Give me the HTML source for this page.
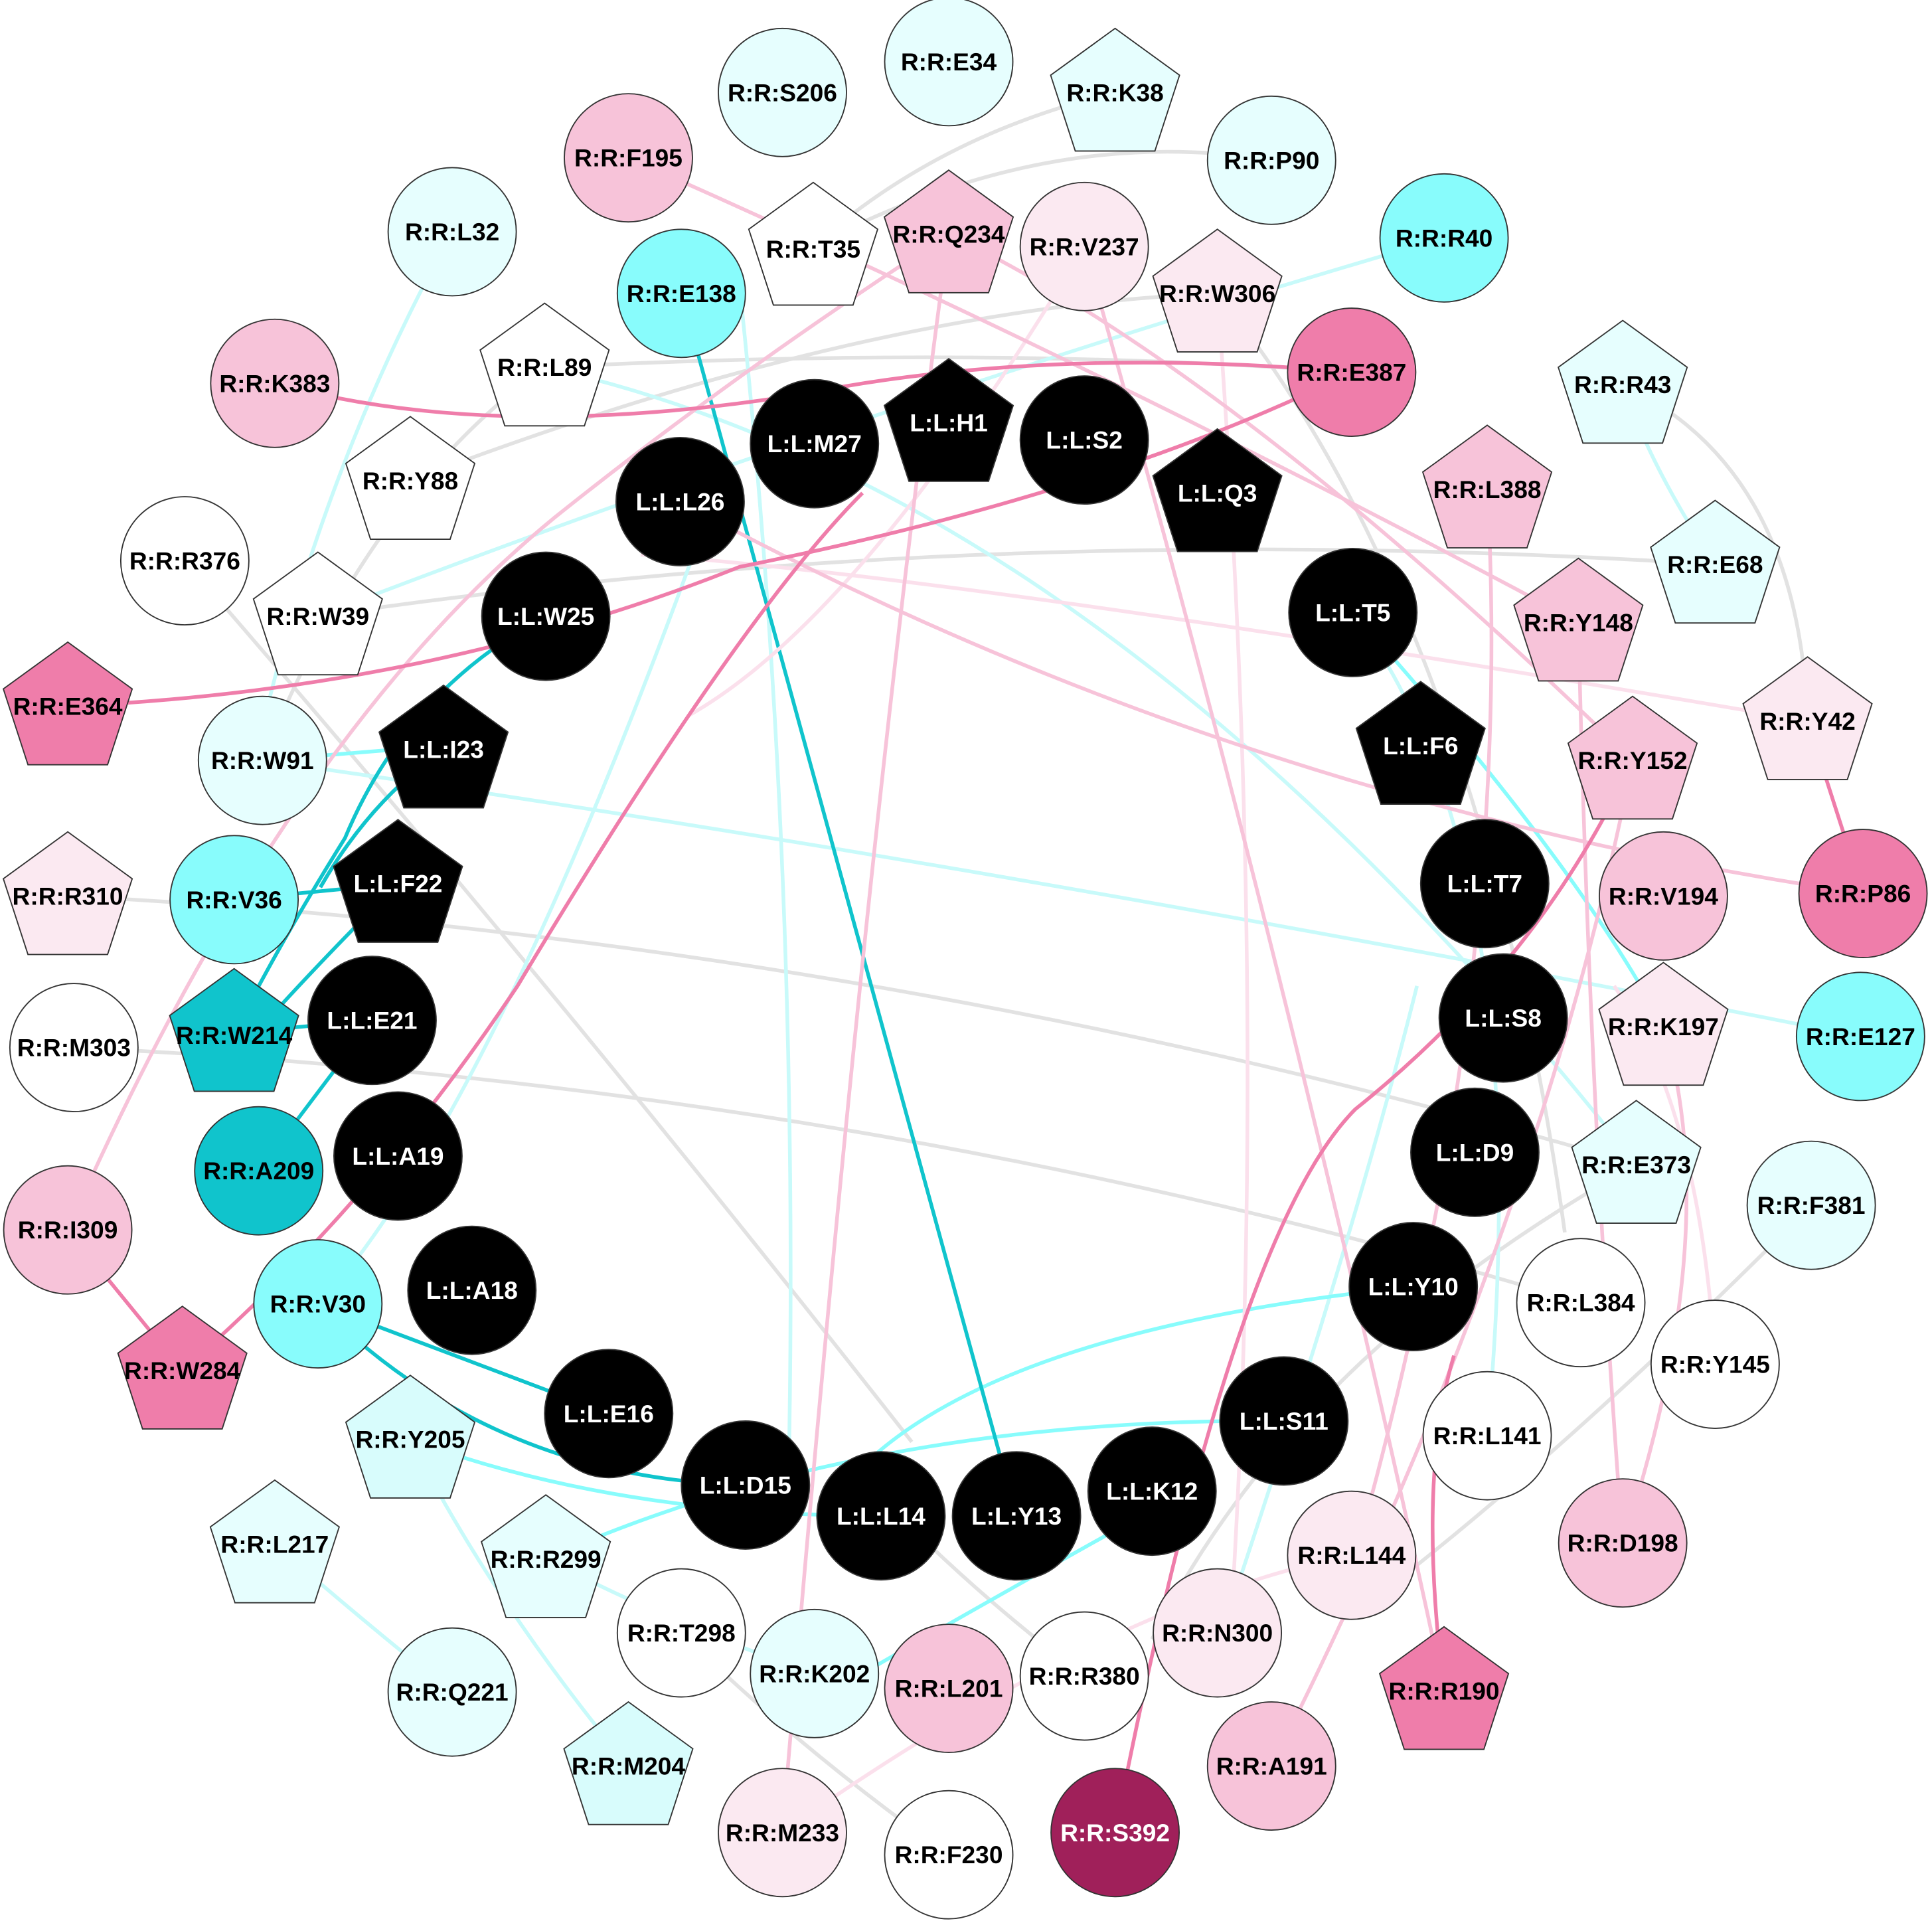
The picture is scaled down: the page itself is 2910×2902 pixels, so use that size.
<!DOCTYPE html>
<html><head><meta charset="utf-8"><style>
html,body{margin:0;padding:0;background:#fff;}
svg{display:block}
text{font-family:"Liberation Sans",Arial,sans-serif;font-weight:bold;font-size:20px;text-anchor:middle;dominant-baseline:central;fill:#000}
.c{stroke:#333;stroke-width:1}
</style></head><body>
<svg width="2910" height="2902" viewBox="0 0 1568 1563.6" xmlns="http://www.w3.org/2000/svg">
<defs>
<polygon id="pg" points="0,-55 52.3,-17 32.3,44.5 -32.3,44.5 -52.3,-17"/>
</defs>
<g fill="none" stroke-width="3">
<!-- gray edges -->
<g stroke="#e2e2e2">
<path d="M660,200 Q850,100 1032,130"/>
<path d="M660,200 Q760,110 905,75"/>
<path d="M442,298 Q800,280 1097,302"/>
<path d="M150,455 Q450,800 740,1170"/>
<path d="M55,727 Q700,760 1328,945"/>
<path d="M60,850 Q700,880 1283,1057"/>
<path d="M258,500 Q800,420 1392,458"/>
<path d="M1317,312 Q1460,380 1467,585"/>
<path d="M333,390 Q700,250 988,238"/>
<path d="M988,238 Q1200,500 1270,1000"/>
<path d="M1470,978 Q1300,1150 1150,1270"/>
<path d="M880,1360 Q800,1300 730,1230"/>
<path d="M553,1325 Q650,1420 770,1505"/>
<path d="M1328,945 Q1050,1100 935,1330"/>
<path d="M213,617 Q300,400 442,298"/>
</g>
<!-- light cyan edges -->
<g stroke="#c8fafa">
<path d="M367,188 Q250,400 200,650"/>
<path d="M213,617 Q800,700 1510,841"/>
<path d="M258,500 Q700,330 1172,193"/>
<path d="M442,298 Q900,400 1328,945"/>
<path d="M1098,497 Q1250,700 1207,1165"/>
<path d="M223,1253 Q300,1320 367,1373"/>
<path d="M333,1168 Q400,1300 510,1433"/>
<path d="M443,1265 Q550,1320 661,1358"/>
<path d="M600,230 Q650,700 640,1200"/>
<path d="M570,430 Q400,900 260,1058"/>
<path d="M1150,800 Q1100,1000 1000,1300"/>
<path d="M1317,312 Q1340,380 1392,458"/>
</g>
<g stroke="#88fcfc">
<path d="M1147,1044 Q800,1080 690,1200"/>
<path d="M1042,1153 Q700,1150 443,1265"/>
<path d="M333,1168 Q500,1230 715,1230"/>
<path d="M213,617 L323,608"/>
<path d="M1098,497 Q1280,700 1350,833"/>
<path d="M980,1200 Q800,1300 700,1358"/>
</g>
<g stroke="#10c4cc">
<path d="M553,238 L825,1230" stroke-dasharray="none"/>
<path d="M443,500 Q330,560 280,680 Q230,760 190,838"/>
<path d="M360,608 Q300,650 260,720"/>
<path d="M323,717 Q260,780 215,830"/>
<path d="M210,950 L302,828"/>
<path d="M190,730 L323,717"/>
<path d="M258,1058 Q400,1200 605,1205"/>
<path d="M258,1058 L494,1147"/>
<path d="M190,838 L302,828"/>
</g>
<!-- pinks -->
<g stroke="#fbe0ec">
<path d="M880,200 Q700,500 560,580"/>
<path d="M1467,585 Q800,470 520,450"/>
<path d="M635,1487 Q900,1300 1097,1262"/>
<path d="M1392,1107 Q1380,900 1310,800"/>
<path d="M988,238 Q1030,800 1000,1300"/>
</g>
<g stroke="#f7c3d9">
<path d="M510,128 Q900,300 1281,505"/>
<path d="M770,190 Q700,700 635,1487"/>
<path d="M880,200 Q1050,800 1172,1372"/>
<path d="M552,407 Q1000,650 1512,725"/>
<path d="M1207,397 Q1230,800 1100,1262"/>
<path d="M1281,505 Q1290,900 1317,1252"/>
<path d="M1325,617 Q1250,1000 1032,1433"/>
<path d="M55,998 Q230,600 450,420 Q600,300 770,190"/>
<path d="M770,190 Q1000,300 1325,617"/>
<path d="M1350,833 Q1400,1000 1317,1252"/>
</g>
<g stroke="#ef7daa">
<path d="M223,311 Q400,360 650,320 Q850,280 1097,302"/>
<path d="M55,573 Q350,560 600,460 Q900,400 1097,302"/>
<path d="M148,1112 Q300,980 420,800 Q600,500 700,400"/>
<path d="M55,998 L148,1112"/>
<path d="M905,1487 Q1000,1000 1100,900 Q1250,780 1325,617"/>
<path d="M1172,1372 Q1150,1200 1180,1100"/>
<path d="M1467,585 L1512,725"/>
</g>
</g>
<!-- nodes -->
<g class="c">
<circle cx="635" cy="75" r="52" fill="#e6fefe"/>
<circle cx="770" cy="50" r="52" fill="#e6fefe"/>
<use href="#pg" x="905" y="78" fill="#e6fefe"/>
<circle cx="510" cy="128" r="52" fill="#f7c3d9"/>
<circle cx="1032" cy="130" r="52" fill="#e6fefe"/>
<circle cx="367" cy="188" r="52" fill="#e6fefe"/>
<use href="#pg" x="660" y="203" fill="#ffffff"/>
<use href="#pg" x="770" y="193" fill="#f7c3d9"/>
<circle cx="880" cy="200" r="52" fill="#fbe9f1"/>
<circle cx="553" cy="238" r="52" fill="#88fcfc"/>
<circle cx="1172" cy="193" r="52" fill="#88fcfc"/>
<use href="#pg" x="988" y="241" fill="#fbe9f1"/>
<circle cx="223" cy="311" r="52" fill="#f7c3d9"/>
<use href="#pg" x="442" y="301" fill="#ffffff"/>
<circle cx="1097" cy="302" r="52" fill="#ef7daa"/>
<use href="#pg" x="1317" y="315" fill="#e6fefe"/>
<circle cx="661" cy="360" r="52" fill="#000"/>
<use href="#pg" x="770" y="346" fill="#000"/>
<circle cx="880" cy="357" r="52" fill="#000"/>
<circle cx="552" cy="407" r="52" fill="#000"/>
<use href="#pg" x="988" y="403" fill="#000"/>
<use href="#pg" x="333" y="393" fill="#ffffff"/>
<use href="#pg" x="1207" y="400" fill="#f7c3d9"/>
<circle cx="150" cy="455" r="52" fill="#ffffff"/>
<use href="#pg" x="1392" y="461" fill="#e6fefe"/>
<use href="#pg" x="258" y="503" fill="#ffffff"/>
<circle cx="443" cy="500" r="52" fill="#000"/>
<circle cx="1098" cy="497" r="52" fill="#000"/>
<use href="#pg" x="1281" y="508" fill="#f7c3d9"/>
<use href="#pg" x="55" y="576" fill="#ef7daa"/>
<circle cx="213" cy="617" r="52" fill="#e6fefe"/>
<use href="#pg" x="360" y="611" fill="#000"/>
<use href="#pg" x="1153" y="608" fill="#000"/>
<use href="#pg" x="1325" y="620" fill="#f7c3d9"/>
<use href="#pg" x="1467" y="588" fill="#fbe9f1"/>
<use href="#pg" x="55" y="730" fill="#fbe9f1"/>
<circle cx="190" cy="730" r="52" fill="#88fcfc"/>
<use href="#pg" x="323" y="720" fill="#000"/>
<circle cx="1205" cy="717" r="52" fill="#000"/>
<circle cx="1350" cy="727" r="52" fill="#f7c3d9"/>
<circle cx="1512" cy="725" r="52" fill="#ef7daa"/>
<circle cx="60" cy="850" r="52" fill="#ffffff"/>
<use href="#pg" x="190" y="841" fill="#10c4cc"/>
<circle cx="302" cy="828" r="52" fill="#000"/>
<circle cx="1220" cy="826" r="52" fill="#000"/>
<use href="#pg" x="1350" y="836" fill="#fbe9f1"/>
<circle cx="1510" cy="841" r="52" fill="#88fcfc"/>
<circle cx="210" cy="950" r="52" fill="#10c4cc"/>
<circle cx="323" cy="938" r="52" fill="#000"/>
<circle cx="1197" cy="935" r="52" fill="#000"/>
<use href="#pg" x="1328" y="948" fill="#e6fefe"/>
<circle cx="1470" cy="978" r="52" fill="#e6fefe"/>
<circle cx="55" cy="998" r="52" fill="#f7c3d9"/>
<use href="#pg" x="148" y="1115" fill="#ef7daa"/>
<circle cx="258" cy="1058" r="52" fill="#88fcfc"/>
<circle cx="383" cy="1047" r="52" fill="#000"/>
<circle cx="1147" cy="1044" r="52" fill="#000"/>
<circle cx="1283" cy="1057" r="52" fill="#ffffff"/>
<circle cx="1392" cy="1107" r="52" fill="#ffffff"/>
<circle cx="494" cy="1147" r="52" fill="#000"/>
<use href="#pg" x="333" y="1171" fill="#d8fcfc"/>
<circle cx="1042" cy="1153" r="52" fill="#000"/>
<circle cx="1207" cy="1165" r="52" fill="#ffffff"/>
<circle cx="605" cy="1205" r="52" fill="#000"/>
<circle cx="715" cy="1230" r="52" fill="#000"/>
<circle cx="825" cy="1230" r="52" fill="#000"/>
<circle cx="935" cy="1210" r="52" fill="#000"/>
<use href="#pg" x="223" y="1256" fill="#e6fefe"/>
<use href="#pg" x="443" y="1268" fill="#e6fefe"/>
<circle cx="1097" cy="1262" r="52" fill="#fbe9f1"/>
<circle cx="1317" cy="1252" r="52" fill="#f7c3d9"/>
<circle cx="553" cy="1325" r="52" fill="#ffffff"/>
<circle cx="661" cy="1358" r="52" fill="#e6fefe"/>
<circle cx="770" cy="1370" r="52" fill="#f7c3d9"/>
<circle cx="880" cy="1360" r="52" fill="#ffffff"/>
<circle cx="988" cy="1325" r="52" fill="#fbe9f1"/>
<use href="#pg" x="1172" y="1375" fill="#ef7daa"/>
<circle cx="367" cy="1373" r="52" fill="#e6fefe"/>
<use href="#pg" x="510" y="1436" fill="#d8fcfc"/>
<circle cx="1032" cy="1433" r="52" fill="#f7c3d9"/>
<circle cx="635" cy="1487" r="52" fill="#fbe9f1"/>
<circle cx="770" cy="1505" r="52" fill="#ffffff"/>
<circle cx="905" cy="1487" r="52" fill="#a0205a"/>
</g>
<!-- labels -->
<g>
<text x="635" y="75">R:R:S206</text>
<text x="770" y="50">R:R:E34</text>
<text x="905" y="75">R:R:K38</text>
<text x="510" y="128">R:R:F195</text>
<text x="1032" y="130">R:R:P90</text>
<text x="367" y="188">R:R:L32</text>
<text x="660" y="202">R:R:T35</text>
<text x="770" y="190">R:R:Q234</text>
<text x="880" y="200">R:R:V237</text>
<text x="553" y="238">R:R:E138</text>
<text x="1172" y="193">R:R:R40</text>
<text x="988" y="238">R:R:W306</text>
<text x="223" y="311">R:R:K383</text>
<text x="442" y="298">R:R:L89</text>
<text x="1097" y="302">R:R:E387</text>
<text x="1317" y="312">R:R:R43</text>
<text x="661" y="360" style="fill:#fff">L:L:M27</text>
<text x="770" y="343" style="fill:#fff">L:L:H1</text>
<text x="880" y="357" style="fill:#fff">L:L:S2</text>
<text x="552" y="407" style="fill:#fff">L:L:L26</text>
<text x="988" y="400" style="fill:#fff">L:L:Q3</text>
<text x="333" y="390">R:R:Y88</text>
<text x="1207" y="397">R:R:L388</text>
<text x="150" y="455">R:R:R376</text>
<text x="1392" y="458">R:R:E68</text>
<text x="258" y="500">R:R:W39</text>
<text x="443" y="500" style="fill:#fff">L:L:W25</text>
<text x="1098" y="497" style="fill:#fff">L:L:T5</text>
<text x="1281" y="505">R:R:Y148</text>
<text x="55" y="573">R:R:E364</text>
<text x="213" y="617">R:R:W91</text>
<text x="360" y="608" style="fill:#fff">L:L:I23</text>
<text x="1153" y="605" style="fill:#fff">L:L:F6</text>
<text x="1325" y="617">R:R:Y152</text>
<text x="1467" y="585">R:R:Y42</text>
<text x="55" y="727">R:R:R310</text>
<text x="190" y="730">R:R:V36</text>
<text x="323" y="717" style="fill:#fff">L:L:F22</text>
<text x="1205" y="717" style="fill:#fff">L:L:T7</text>
<text x="1350" y="727">R:R:V194</text>
<text x="1512" y="725">R:R:P86</text>
<text x="60" y="850">R:R:M303</text>
<text x="190" y="840">R:R:W214</text>
<text x="302" y="828" style="fill:#fff">L:L:E21</text>
<text x="1220" y="826" style="fill:#fff">L:L:S8</text>
<text x="1350" y="833">R:R:K197</text>
<text x="1510" y="841">R:R:E127</text>
<text x="210" y="950">R:R:A209</text>
<text x="323" y="938" style="fill:#fff">L:L:A19</text>
<text x="1197" y="935" style="fill:#fff">L:L:D9</text>
<text x="1328" y="945">R:R:E373</text>
<text x="1470" y="978">R:R:F381</text>
<text x="55" y="998">R:R:I309</text>
<text x="148" y="1112">R:R:W284</text>
<text x="258" y="1058">R:R:V30</text>
<text x="383" y="1047" style="fill:#fff">L:L:A18</text>
<text x="1147" y="1044" style="fill:#fff">L:L:Y10</text>
<text x="1283" y="1057">R:R:L384</text>
<text x="1392" y="1107">R:R:Y145</text>
<text x="494" y="1147" style="fill:#fff">L:L:E16</text>
<text x="333" y="1168">R:R:Y205</text>
<text x="1042" y="1153" style="fill:#fff">L:L:S11</text>
<text x="1207" y="1165">R:R:L141</text>
<text x="605" y="1205" style="fill:#fff">L:L:D15</text>
<text x="715" y="1230" style="fill:#fff">L:L:L14</text>
<text x="825" y="1230" style="fill:#fff">L:L:Y13</text>
<text x="935" y="1210" style="fill:#fff">L:L:K12</text>
<text x="223" y="1253">R:R:L217</text>
<text x="443" y="1265">R:R:R299</text>
<text x="1097" y="1262">R:R:L144</text>
<text x="1317" y="1252">R:R:D198</text>
<text x="553" y="1325">R:R:T298</text>
<text x="661" y="1358">R:R:K202</text>
<text x="770" y="1370">R:R:L201</text>
<text x="880" y="1360">R:R:R380</text>
<text x="988" y="1325">R:R:N300</text>
<text x="1172" y="1372">R:R:R190</text>
<text x="367" y="1373">R:R:Q221</text>
<text x="510" y="1433">R:R:M204</text>
<text x="1032" y="1433">R:R:A191</text>
<text x="635" y="1487">R:R:M233</text>
<text x="770" y="1505">R:R:F230</text>
<text x="905" y="1487" style="fill:#fff">R:R:S392</text>
</g>
</svg>
</body></html>
